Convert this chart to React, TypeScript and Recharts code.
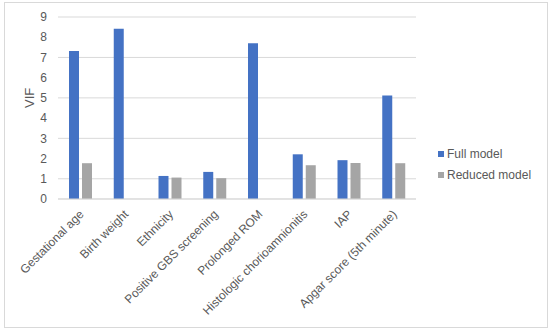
import { Bar, BarChart, CartesianGrid, Legend, XAxis, YAxis } from "recharts";

const categories = [
  "Gestational age",
  "Birth weight",
  "Ethnicity",
  "Positive GBS screening",
  "Prolonged ROM",
  "Histologic chorioamnionitis",
  "IAP",
  "Apgar score (5th minute)",
];
const fullModel = [7.32, 8.42, 1.14, 1.34, 7.7, 2.21, 1.92, 5.12];
const reducedModel: (number | null)[] = [1.77, null, 1.06, 1.03, null, 1.67, 1.78, 1.77];
const yTicks = [0, 1, 2, 3, 4, 5, 6, 7, 8, 9];

const data = categories.map((name, i) => ({
  name,
  full: fullModel[i],
  reduced: reducedModel[i],
}));

const TEXT = "#595959";
const FONT = "Arial, 'Liberation Sans', sans-serif";

function AngledTick(props: any) {
  const { x, y, payload } = props;
  return (
    <text
      x={x + 4}
      y={y + 8}
      textAnchor="end"
      fill={TEXT}
      fontSize={12}
      fontFamily={FONT}
      transform={`rotate(-45, ${x + 4}, ${y + 8})`}
    >
      {payload.value}
    </text>
  );
}

function LegendBox(props: any) {
  const items = props.payload || [];
  return (
    <div style={{ fontFamily: FONT, fontSize: 12, color: TEXT }}>
      {items.map((it: any) => (
        <div key={it.value} style={{ display: "flex", alignItems: "center", height: 21 }}>
          <span
            style={{ width: 6, height: 6, background: it.color, display: "inline-block", marginRight: 3 }}
          />
          {it.value}
        </div>
      ))}
    </div>
  );
}

export default function App() {
  return (
    <div style={{ position: "absolute", left: 0, top: 0, width: 550, height: 329, background: "#fff" }}>
      <div
        style={{
          position: "absolute",
          left: 4,
          top: 2,
          width: 542,
          height: 324,
          border: "1px solid #d9d9d9",
        }}
      />
      <BarChart
        width={550}
        height={329}
        data={data}
        margin={{ top: 17, right: 134, bottom: 0, left: 0 }}
        barSize={10}
        barGap={3}
      >
        <CartesianGrid vertical={false} stroke="#d9d9d9" />
        <XAxis
          dataKey="name"
          interval={0}
          height={130}
          tickLine={false}
          axisLine={{ stroke: "#d9d9d9" }}
          tick={<AngledTick />}
        />
        <YAxis
          width={58}
          domain={[0, 9]}
          ticks={yTicks}
          tickLine={false}
          axisLine={false}
          tickMargin={5}
          tick={{ fill: TEXT, fontSize: 12, fontFamily: FONT }}
          label={{
            value: "VIF",
            angle: -90,
            position: "insideLeft",
            offset: 29,
            fill: TEXT,
            fontSize: 13,
            fontFamily: FONT,
          }}
        />
        <Legend
          layout="vertical"
          align="center"
          verticalAlign="middle"
          content={<LegendBox />}
          wrapperStyle={{ position: "absolute", left: 438, top: 143, width: 110 }}
        />
        <Bar dataKey="full" name="Full model" fill="#4472C4" isAnimationActive={false} />
        <Bar dataKey="reduced" name="Reduced model" fill="#A5A5A5" isAnimationActive={false} />
      </BarChart>
    </div>
  );
}
